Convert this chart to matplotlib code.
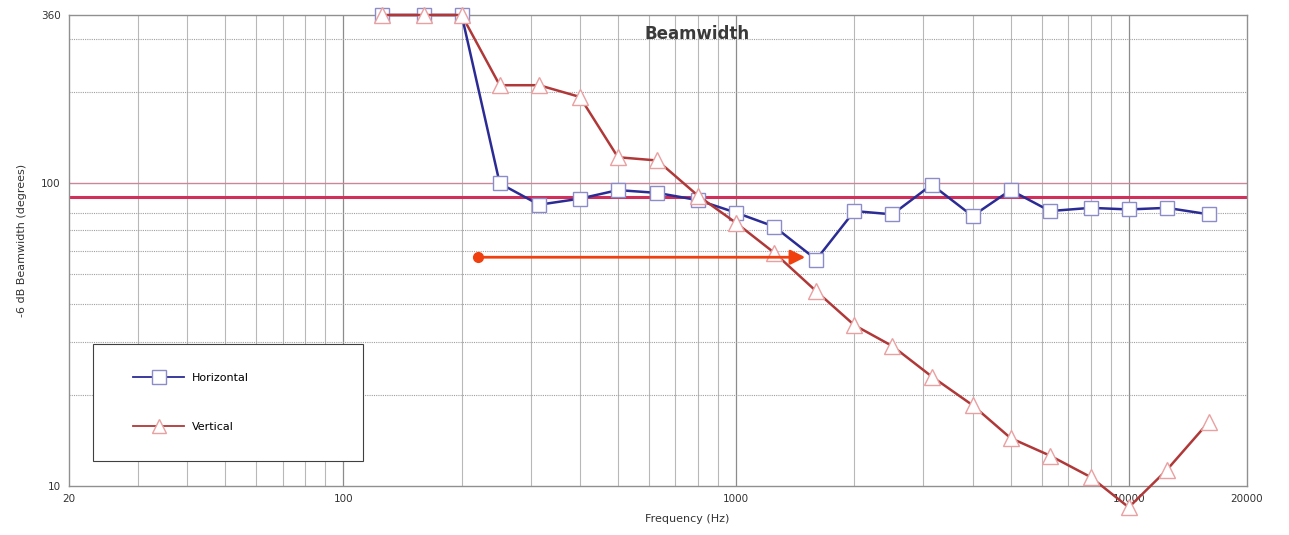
import matplotlib
matplotlib.use("Agg")
from matplotlib import pyplot as plt
from matplotlib.ticker import FixedLocator, NullFormatter
from matplotlib.patches import Rectangle
import numpy as np

# third-octave centre frequencies (Hz)
Freq = [125, 160, 200, 250, 315, 400, 500, 630, 800, 1000, 1250, 1600, 2000,
        2500, 3150, 4000, 5000, 6300, 8000, 10000, 12500, 16000]

# -6 dB beamwidth (degrees)
Horizontal = [360, 360, 360, 100, 85, 89, 95, 93, 88, 80, 72, 56, 81,
              79, 99, 78, 95, 81, 83, 82, 83, 79]
Vertical = [360, 360, 360, 211, 211, 193, 122, 119, 91, 74, 59, 44, 34,
            29, 23, 18.5, 14.4, 12.6, 10.7, 8.5, 11.3, 16.3]

Target_Line = 90
Ref_Line = 100
Arrow_Start = 220
Arrow_End = 1500
Arrow_Level = 57

x_ticks = [20, 100, 1000, 10000, 20000]
x_tick_labels = ['20', '100', '1000', '10000', '20000']
y_ticks = [10, 100, 360]
y_tick_labels = ['10', '100', '360']

W, H = 1289, 535
ax_l, ax_r, ax_t, ax_b = 69, 1247, 15, 486

fig = plt.figure(figsize=(W/100, H/100), dpi=100)
ax = fig.add_axes([ax_l/W, (H-ax_b)/H, (ax_r-ax_l)/W, (ax_b-ax_t)/H])
ax.set_xscale('log')
ax.set_yscale('log')
ax.set_xlim(20, 20000)
ax.set_ylim(10, 360)

# grid
for f in [100, 1000, 10000]:
    ax.axvline(f, color='#8c8c8c', lw=0.9, zorder=0)
x_minor = [m * d for d in [10, 100, 1000] for m in range(2, 10) if 20 < m * d < 20000]
for f in x_minor:
    ax.axvline(f, color='#b8b8b8', lw=0.8, zorder=0)
y_minor = [20, 30, 40, 50, 60, 70, 80, 90, 200, 300]
for v in y_minor:
    ax.axhline(v, color='#a0a0a0', lw=0.8, ls=(0, (1, 1)), zorder=0)

ax.axhline(Ref_Line, color='#c8889a', lw=1.0, zorder=1)
ax.axhline(Target_Line, color='#d0305a', lw=2.2, zorder=1)

ax.plot(Freq, Horizontal, '-s', color='#2b2b96', lw=1.8, markersize=10,
        markerfacecolor='white', markeredgecolor='#8c8cc8', markeredgewidth=1.0,
        label='Horizontal', zorder=3, clip_on=False)
ax.plot(Freq, Vertical, '-^', color='#b03838', lw=1.8, markersize=11,
        markerfacecolor='white', markeredgecolor='#e8a0a0', markeredgewidth=1.0,
        label='Vertical', zorder=4, clip_on=False)

# arrow
ax.annotate('', xy=(Arrow_End, Arrow_Level), xytext=(Arrow_Start, Arrow_Level),
            arrowprops=dict(arrowstyle='-|>', color='#f04010', lw=2,
                            mutation_scale=22, shrinkA=0, shrinkB=0), zorder=6)
ax.plot([Arrow_Start], [Arrow_Level], 'o', color='#f04010', markersize=7, zorder=6)

ax.text((697-ax_l)/(ax_r-ax_l), (ax_b-34)/(ax_b-ax_t), 'Beamwidth', transform=ax.transAxes,
        ha='center', va='center', fontsize=12, fontweight='bold', color='#3a3a3a')

ax.xaxis.set_major_locator(FixedLocator(x_ticks))
ax.set_xticklabels(x_tick_labels)
ax.xaxis.set_minor_formatter(NullFormatter())
ax.yaxis.set_major_locator(FixedLocator(y_ticks))
ax.set_yticklabels(y_tick_labels)
ax.yaxis.set_minor_formatter(NullFormatter())
ax.tick_params(which='both', length=0, labelsize=7.5, labelcolor='#333333', pad=6)

for s in ax.spines.values():
    s.set_color('#909090')
    s.set_linewidth(1.0)

ax.set_xlabel('Frequency (Hz)', fontsize=8, color='#333333')
ax.xaxis.set_label_coords((687-ax_l)/(ax_r-ax_l), -0.06)
ax.set_ylabel('-6 dB Beamwidth (degrees)', fontsize=8, color='#333333')
ax.yaxis.set_label_coords(-0.036, (ax_b-240)/(ax_b-ax_t))

# legend box
def px(x, y):
    return ((x-ax_l)/(ax_r-ax_l), (ax_b-y)/(ax_b-ax_t))

x0, y0 = px(93, 461)
x1, y1 = px(363, 344)
ax.add_patch(Rectangle((x0, y0), x1-x0, y1-y0, transform=ax.transAxes,
                       facecolor='white', edgecolor='#404040', lw=0.8, zorder=7))

leg = ax.legend(loc='upper left', bbox_to_anchor=px(133, 373), fontsize=8,
                frameon=False, borderpad=0, borderaxespad=0, labelspacing=3.5,
                handlelength=4.6, handletextpad=0.7)
leg.set_zorder(8)
for h in leg.legend_handles:
    h.set_markersize(10)
    h.set_linewidth(1.3)

plt.savefig('out.png', dpi=100)
